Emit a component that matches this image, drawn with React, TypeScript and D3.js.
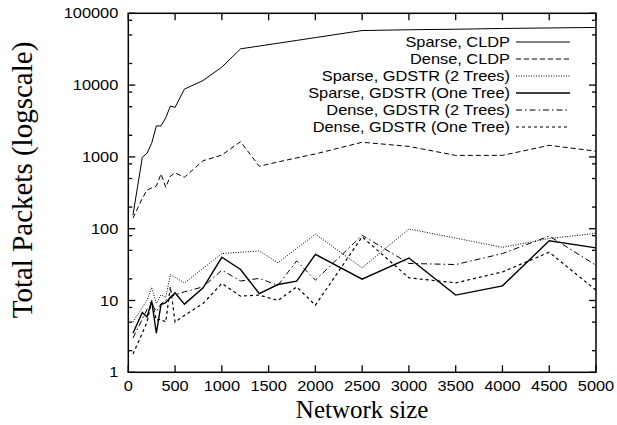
import * as d3 from 'd3'

// network sizes on the x axis
const sizes = [50, 150, 200, 250, 300, 350, 400, 450, 500, 600, 800, 1000, 1200, 1400, 1600, 1800, 2000, 2500, 3000, 3500, 4000, 4500, 5000]

const sparseCldp = [155, 990, 1120, 1550, 2700, 2700, 3500, 5100, 4900, 8800, 11600, 17800, 32000, 35000, 38300, 41900, 45900, 57500, 59000, 60000, 61500, 62500, 63500]
const denseCldp = [140, 265, 345, 370, 393, 580, 377, 540, 600, 520, 885, 1060, 1630, 740, 850, 970, 1100, 1600, 1400, 1050, 1050, 1450, 1200]
const sparseGd2 = [5.0, 8, 10, 15.2, 9.1, 12, 11, 23, 21, 17.6, 28, 45, 47, 49, 33.5, 53, 84, 28.5, 99, 74, 55, 73, 86]
const sparseGd1 = [3.5, 6.8, 5.9, 9.8, 3.5, 8.8, 9.3, 11, 12.8, 8.9, 15, 40, 27, 12.5, 16.7, 18.6, 44, 19.8, 39, 11.9, 16, 68, 54]
const denseGd2 = [3.0, 5.5, 7.5, 9, 7, 9, 10, 11.2, 12, 13.2, 15.5, 26.5, 18.7, 20.3, 16.3, 35.6, 19.2, 81, 32.8, 31.7, 45, 79, 31]
const denseGd1 = [1.8, 3.5, 5.0, 10, 5.3, 5.5, 5.0, 15.5, 5.0, 6.2, 9.1, 17.3, 11.5, 11.9, 10, 15.5, 8.6, 77, 20.7, 17.6, 25, 47, 13.9]

const seriesNames = ['Sparse, CLDP', 'Dense, CLDP', 'Sparse, GDSTR (2 Trees)', 'Sparse, GDSTR (One Tree)', 'Dense, GDSTR (2 Trees)', 'Dense, GDSTR (One Tree)']
const seriesValues = [sparseCldp, denseCldp, sparseGd2, sparseGd1, denseGd2, denseGd1]
const dashes = ['none', '5,3', '1,1.5', 'none', '6,3,1.5,3', '3,3']
const widths = [1, 1, 1, 1.4, 1, 1.2]

const xTicks = [0, 500, 1000, 1500, 2000, 2500, 3000, 3500, 4000, 4500, 5000]
const yTicks = [1, 10, 100, 1000, 10000, 100000]

const W = 617
const H = 425
const left = 128.3
const right = 596
const top = 13.3
const bottom = 372.3
const sans = '"Liberation Sans", Arial, Helvetica, sans-serif'
const serif = '"Liberation Serif", "Times New Roman", serif'
const stretch = 1.17

const App = () => {
  const x = d3.scaleLinear().domain([0, 5000]).range([left, right])
  const y = d3.scaleLog().domain([1, 100000]).range([bottom, top])

  const line = d3
    .line<number>()
    .x((_, i) => x(sizes[i]))
    .y((d) => y(d))

  // minor ticks at 2, 5, 8 of each decade
  const minor: number[] = []
  yTicks.slice(0, -1).forEach((t) => [2, 5, 8].forEach((m) => minor.push(t * m)))

  return (
    <svg width={W} height={H} style={{ position: 'absolute', left: 0, top: 0, background: 'white' }}>
      <rect x={0} y={0} width={W} height={H} fill="white" />

      {/* y ticks, both sides */}
      {yTicks.map((t) => (
        <g key={'y' + t}>
          <line x1={left} x2={left + 7} y1={y(t)} y2={y(t)} stroke="black" strokeWidth={1.3} />
          <line x1={right} x2={right - 7} y1={y(t)} y2={y(t)} stroke="black" strokeWidth={1.3} />
          <g transform={`translate(${left - 10},${y(t) + 5}) scale(${stretch},1)`}>
            <text textAnchor="end" fontFamily={sans} fontSize={14}>
              {t}
            </text>
          </g>
        </g>
      ))}
      {minor.map((t) => (
        <g key={'m' + t}>
          <line x1={left} x2={left + 4} y1={y(t)} y2={y(t)} stroke="black" strokeWidth={1.3} />
          <line x1={right} x2={right - 4} y1={y(t)} y2={y(t)} stroke="black" strokeWidth={1.3} />
        </g>
      ))}

      {/* x ticks, top and bottom */}
      {xTicks.map((t) => (
        <g key={'x' + t}>
          <line x1={x(t)} x2={x(t)} y1={bottom} y2={bottom - 7} stroke="black" strokeWidth={1.3} />
          <line x1={x(t)} x2={x(t)} y1={top} y2={top + 7} stroke="black" strokeWidth={1.3} />
          <g transform={`translate(${x(t)},${bottom + 19}) scale(${stretch},1)`}>
            <text textAnchor="middle" fontFamily={sans} fontSize={14}>
              {t}
            </text>
          </g>
        </g>
      ))}

      {/* series */}
      {seriesValues.map((vals, i) => (
        <path
          key={seriesNames[i]}
          d={line(vals) ?? ''}
          fill="none"
          stroke="black"
          strokeWidth={widths[i]}
          strokeDasharray={dashes[i]}
        />
      ))}

      {/* frame */}
      <rect x={left} y={top} width={right - left} height={bottom - top} fill="none" stroke="black" strokeWidth={1.5} />

      {/* legend */}
      {seriesNames.map((name, i) => {
        const ly = 42 + i * 17
        return (
          <g key={'l' + name}>
            <g transform={`translate(510,${ly + 5}) scale(${stretch},1)`}>
              <text textAnchor="end" fontFamily={sans} fontSize={14}>
                {name}
              </text>
            </g>
            <line
              x1={516}
              x2={570}
              y1={ly}
              y2={ly}
              stroke="black"
              strokeWidth={widths[i]}
              strokeDasharray={dashes[i]}
            />
          </g>
        )
      })}

      {/* axis titles */}
      <text x={(left + right) / 2} y={418} textAnchor="middle" fontFamily={serif} fontSize={25}>
        Network size
      </text>
      <text
        transform={`translate(32,180) rotate(-90)`}
        textAnchor="middle"
        fontFamily={serif}
        fontSize={29}
      >
        Total Packets (logscale)
      </text>
    </svg>
  )
}

export default App
